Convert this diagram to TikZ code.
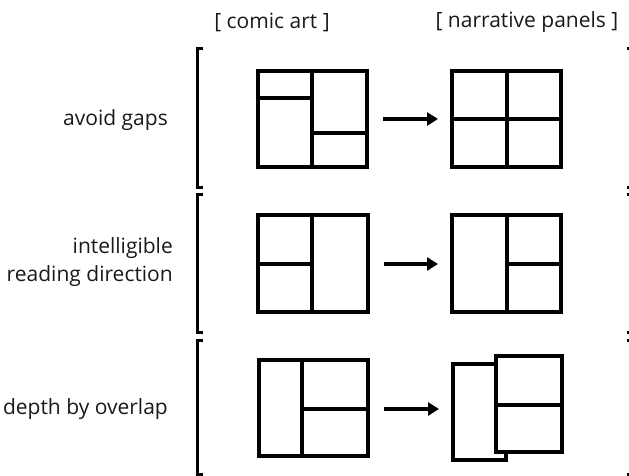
\documentclass[tikz,border=0pt]{standalone}
\usepackage{fontspec}
\setmainfont{Open Sans}
\usetikzlibrary{arrows.meta}
\begin{document}
\begin{tikzpicture}[x=1pt,y=-1pt,
  panel/.style={draw=black,line width=3.6pt,fill=white,inner sep=0pt,outer sep=0pt,rectangle},
  divider/.style={draw=black,line width=3.6pt},
  bracketline/.style={draw=black,line width=3pt},
  flow/.style={draw=black,line width=3.6pt,-{Triangle[length=11pt,width=13pt]},shorten <=16pt,shorten >=14pt},
  caption/.style={font=\fontsize{21}{28}\selectfont,inner sep=0pt,text=black!90}]
\useasboundingbox (0,0) rectangle (629,476);

% column headings
\node[caption] (hcomic) at (272,22) {[ comic art ]};
\node[caption] (hpanels) at (527,22) {[ narrative panels ]};

% row labels
\node[caption,anchor=east] (lgaps) at (168,120) {avoid gaps};
\node[caption,anchor=east,align=right] (ldir) at (173,262) {intelligible\\reading direction};
\node[caption,anchor=east] (ldepth) at (168,409) {depth by overlap};

% left brackets
\draw[bracketline] (203,49) -- (197,49) -- (197,187) -- (203,187);
\draw[bracketline] (203,194) -- (197,194) -- (197,332) -- (203,332);
\draw[bracketline] (203,340) -- (197,340) -- (197,474) -- (203,474);
% right brackets, running past the right edge
\draw[bracketline] (627,49) -- (634,49) -- (634,187) -- (627,187);
\draw[bracketline] (627,194) -- (634,194) -- (634,332) -- (627,332);
\draw[bracketline] (627,340) -- (634,340) -- (634,474) -- (627,474);

% row 1: avoid gaps
\node[panel,minimum width=109pt,minimum height=96pt] (a1) at (312.5,119) {};
\draw[divider] (312,71) -- (312,167);
\draw[divider] (258,98) -- (312,98);
\draw[divider] (312,133) -- (367,133);
\node[panel,minimum width=109pt,minimum height=96pt] (a2) at (506.5,119) {};
\draw[divider] (507,71) -- (507,167);
\draw[divider] (452,119) -- (561,119);
\draw[flow] (a1) -- (a2);

% row 2: reading direction
\node[panel,minimum width=110pt,minimum height=97pt] (b1) at (313,263.5) {};
\draw[divider] (312,215) -- (312,312);
\draw[divider] (258,264) -- (312,264);
\node[panel,minimum width=109pt,minimum height=97pt] (b2) at (506.5,263.5) {};
\draw[divider] (507,215) -- (507,312);
\draw[divider] (507,264) -- (561,264);
\draw[flow] (b1.east |- 0,264) -- (b2.west |- 0,264);

% row 3: depth by overlap
\node[panel,minimum width=109pt,minimum height=96pt] (c1) at (313.5,408) {};
\draw[divider] (302,360) -- (302,456);
\draw[divider] (302,409) -- (368,409);
\node[panel,minimum width=53pt,minimum height=96pt] (c2back) at (479.5,412) {};
\node[panel,minimum width=66pt,minimum height=96pt] (c2) at (529,404) {};
\draw[divider] (496,405) -- (562,405);
\draw[flow] (c1.east |- 0,409) -- (c2back.west |- 0,409);
\end{tikzpicture}
\end{document}
